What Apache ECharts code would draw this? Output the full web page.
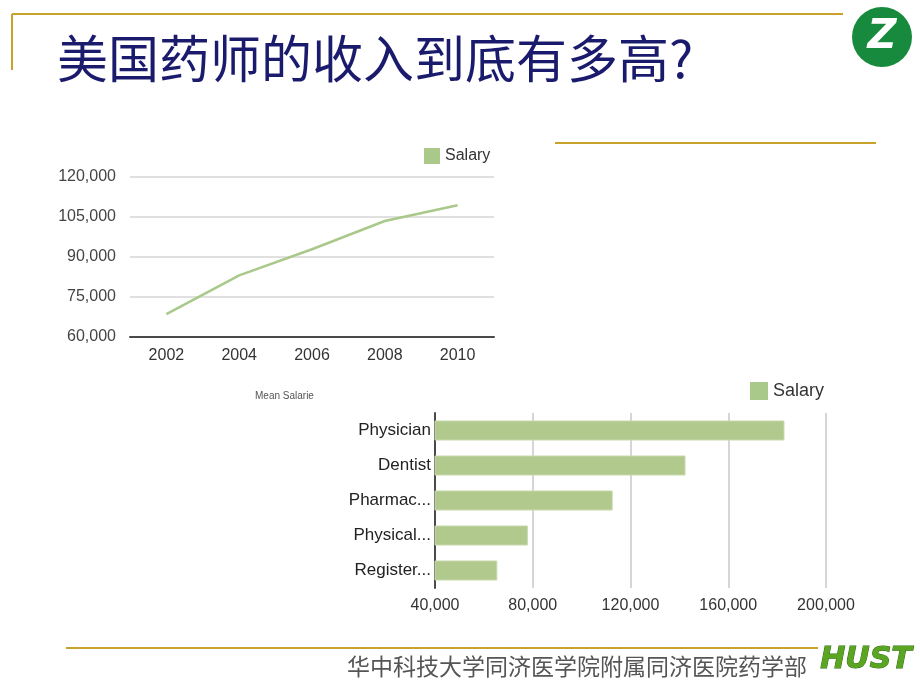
<!DOCTYPE html>
<html>
<head>
<meta charset="utf-8">
<script src="https://cdn.jsdelivr.net/npm/echarts@6/dist/echarts.min.js"></script>
<style>
html,body{margin:0;padding:0;background:#fff;}
#main{width:920px;height:690px;}
</style>
</head>
<body>
<div id="main"></div>
<script>
// ---- data ----
var titleText = '美国药师的收入到底有多高?';
var footerText = '华中科技大学同济医学院附属同济医院药学部';
var years = ['2002', '2004', '2006', '2008', '2010'];
var yearSalary = [68500, 83000, 92800, 103400, 109300];
var professions = ['Physician', 'Dentist', 'Pharmac...', 'Physical...', 'Register...'];
var professionSalary = [183000, 142500, 112700, 78000, 65500];
var seriesName = 'Salary';
var barChartTitle = 'Mean Salarie';

var fmt = function (v) { return Number(v).toLocaleString('en-US'); };
var gold = '#c9a22c';
var green = '#b1c98d';

var chart = echarts.init(document.getElementById('main'));
chart.setOption({
  backgroundColor: '#ffffff',
  animation: false,
  textStyle: { fontFamily: 'Liberation Sans, Arial, sans-serif' },
  legend: [
    { data: [seriesName], left: 424, top: 148, padding: 0, icon: 'rect', itemWidth: 16, itemHeight: 16,
      itemGap: 4, textStyle: { fontSize: 16, color: '#333' }, selectedMode: false },
    { data: [seriesName], left: 750, top: 382, padding: 0, icon: 'rect', itemWidth: 18, itemHeight: 18,
      itemGap: 4, textStyle: { fontSize: 18, color: '#333' }, selectedMode: false }
  ],
  grid: [
    { left: 130, top: 176.7, width: 364, height: 160 },
    { left: 435, top: 413, width: 391, height: 175 }
  ],
  xAxis: [
    { gridIndex: 0, type: 'category', data: years, boundaryGap: true,
      axisLine: { lineStyle: { color: '#4a4a4a', width: 2 } },
      axisTick: { show: false },
      axisLabel: { fontSize: 16, color: '#333', margin: 11 } },
    { gridIndex: 1, type: 'value', min: 40000, max: 200000, interval: 40000,
      axisLine: { show: false }, axisTick: { show: false },
      splitLine: { lineStyle: { color: '#d6d6d6', width: 2 } },
      axisLabel: { fontSize: 16, color: '#333', margin: 10, formatter: fmt } }
  ],
  yAxis: [
    { gridIndex: 0, type: 'value', min: 60000, max: 120000, interval: 15000,
      axisLine: { show: false }, axisTick: { show: false },
      splitLine: { lineStyle: { color: '#d6d6d6', width: 1.5 } },
      axisLabel: { fontSize: 16, color: '#444', margin: 14, formatter: fmt } },
    { gridIndex: 1, type: 'category', data: professions, inverse: true,
      axisLine: { lineStyle: { color: '#4a4a4a', width: 2 } },
      axisTick: { show: false },
      axisLabel: { fontSize: 17, color: '#222', margin: 4 } }
  ],
  series: [
    { name: seriesName, type: 'line', xAxisIndex: 0, yAxisIndex: 0, data: yearSalary,
      symbol: 'none', color: '#a9c98a', lineStyle: { width: 2.5, color: '#a9c98a' } },
    { name: seriesName, type: 'bar', xAxisIndex: 1, yAxisIndex: 1, data: professionSalary,
      color: green, barWidth: 20,
      itemStyle: { color: green, borderColor: '#c6d9aa', borderWidth: 1 } }
  ],
  graphic: [
    // decorative gold lines
    { type: 'line', shape: { x1: 12, y1: 14, x2: 843, y2: 14 }, style: { stroke: gold, lineWidth: 2 } },
    { type: 'line', shape: { x1: 12, y1: 14, x2: 12, y2: 70 }, style: { stroke: gold, lineWidth: 2 } },
    { type: 'line', shape: { x1: 555, y1: 143, x2: 876, y2: 143 }, style: { stroke: gold, lineWidth: 2 } },
    { type: 'line', shape: { x1: 66, y1: 648, x2: 818, y2: 648 }, style: { stroke: gold, lineWidth: 2 } },
    // title
    { type: 'text', left: 57, top: 33,
      style: { text: titleText, fontSize: 51, fill: '#1b1b6e',
        fontFamily: 'Noto Sans CJK SC' } },
    // bar chart caption
    { type: 'text', left: 255, top: 391,
      style: { text: barChartTitle, fontSize: 10, fill: '#555' } },
    // footer
    { type: 'text', left: 347, top: 655,
      style: { text: footerText, fontSize: 23, fill: '#555',
        fontFamily: 'Noto Sans CJK SC' } },
    // top-right logo
    { type: 'circle', shape: { cx: 882, cy: 37, r: 30 }, style: { fill: '#178a3e' } },
    { type: 'text', x: 882, y: 38,
      style: { text: 'Z', fontSize: 40, fontWeight: 'bold', fontStyle: 'italic',
        fill: '#fff', align: 'center', verticalAlign: 'middle', fontFamily: 'DejaVu Sans' } },
    // bottom-right logo
    { type: 'text', x: 866, y: 660,
      style: { text: 'HUST', fontSize: 30, fontWeight: 'bold', fontStyle: 'italic',
        fill: '#5aa522', stroke: '#2e6b10', lineWidth: 1, align: 'center', verticalAlign: 'middle',
        fontFamily: 'DejaVu Sans' } }
  ]
});
</script>
</body>
</html>
